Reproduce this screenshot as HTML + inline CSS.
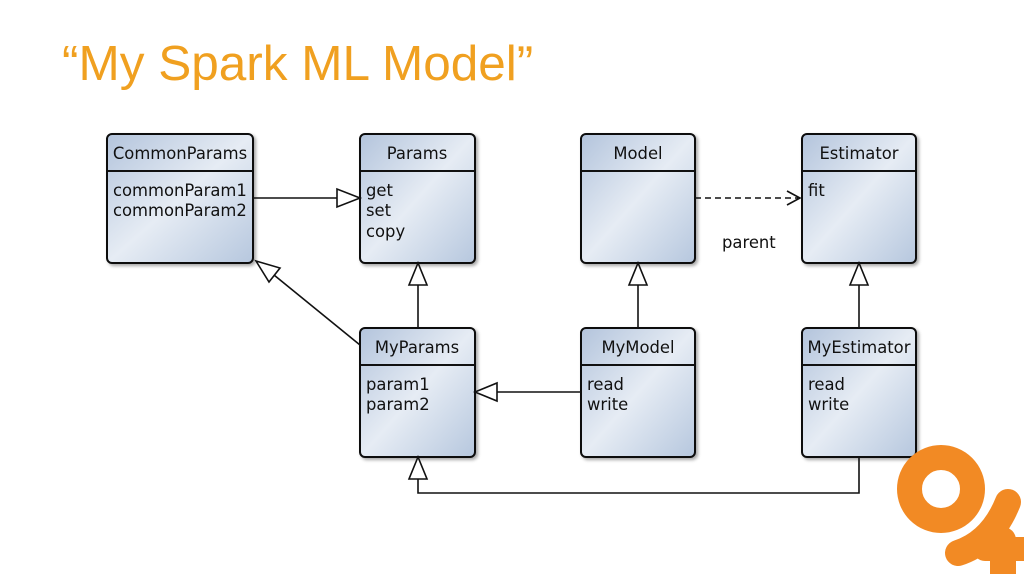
<!DOCTYPE html>
<html><head><meta charset="utf-8"><style>
html,body{margin:0;padding:0;background:#fff;width:1024px;height:574px;overflow:hidden}
svg{display:block}
</style></head><body>
<svg width="1024" height="574" viewBox="0 0 1024 574" xmlns="http://www.w3.org/2000/svg">
<defs>
<linearGradient id="g" x1="0" y1="0" x2="1" y2="1">
<stop offset="0" stop-color="#b3c4dc"/><stop offset="0.5" stop-color="#e6ecf4"/><stop offset="1" stop-color="#b6c7de"/>
</linearGradient>
<filter id="s" x="-10%" y="-10%" width="130%" height="130%"><feDropShadow dx="2" dy="2" stdDeviation="1.5" flood-color="#000" flood-opacity="0.35"/></filter>
</defs>
<text x="62" y="80" font-family="Liberation Sans, sans-serif" font-size="49.5" fill="#f0a020">“My Spark ML Model”</text>

<g font-family="DejaVu Sans, sans-serif" font-size="16.4" fill="#111">
<g stroke="#111" stroke-width="2">
<g filter="url(#s)">
<rect x="107" y="134" width="146" height="129" rx="5" fill="url(#g)"/>
<rect x="360" y="134" width="115" height="129" rx="5" fill="url(#g)"/>
<rect x="581" y="134" width="114" height="129" rx="5" fill="url(#g)"/>
<rect x="802" y="134" width="114" height="129" rx="5" fill="url(#g)"/>
<rect x="360" y="328" width="115" height="129" rx="5" fill="url(#g)"/>
<rect x="581" y="328" width="114" height="129" rx="5" fill="url(#g)"/>
<rect x="802" y="328" width="114" height="129" rx="5" fill="url(#g)"/>
</g>
<path d="M108 171H252M361 171H474M582 171H694M803 171H915M361 365H474M582 365H694M803 365H915" stroke-width="2"/>
</g>
<g text-anchor="middle">
<text x="180" y="159">CommonParams</text>
<text x="417" y="159">Params</text>
<text x="638" y="159">Model</text>
<text x="859" y="159">Estimator</text>
<text x="417" y="353">MyParams</text>
<text x="638" y="353">MyModel</text>
<text x="859" y="353">MyEstimator</text>
</g>
<text x="113" y="196">commonParam1</text>
<text x="113" y="216">commonParam2</text>
<text x="366" y="196">get</text>
<text x="366" y="216">set</text>
<text x="366" y="237">copy</text>
<text x="808" y="196">fit</text>
<text x="366" y="390">param1</text>
<text x="366" y="410">param2</text>
<text x="587" y="390">read</text>
<text x="587" y="410">write</text>
<text x="808" y="390">read</text>
<text x="808" y="410">write</text>
<text x="722" y="248">parent</text>
</g>

<g stroke="#111" stroke-width="1.6" fill="none">
<path d="M253 198H337"/>
<path d="M360 345L274 275"/>
<path d="M418 328V285"/>
<path d="M638 328V285"/>
<path d="M859 328V285"/>
<path d="M581 392H497"/>
<path d="M859 457V493H418V479"/>
<path d="M695 198H798" stroke-dasharray="6,4"/>
<path d="M787 191L800 198L787 205"/>
</g>
<g stroke="#111" stroke-width="1.6" fill="#fff">
<polygon points="360,198 337,189 337,207"/>
<polygon points="256,261 280,268 269,282"/>
<polygon points="418,263 409,285 427,285"/>
<polygon points="638,263 629,285 647,285"/>
<polygon points="859,263 850,285 868,285"/>
<polygon points="475,392 497,383 497,401"/>
<polygon points="418,457 409,479 427,479"/>
</g>

<g fill="none" stroke="#f28a24" stroke-linecap="round">
<circle cx="941" cy="489" r="31.5" stroke-width="25"/>
<path d="M1008 502Q992 542 958 553" stroke-width="26"/>
<path d="M985 549H1040" stroke-width="24"/>
<path d="M1003 540V590" stroke-width="26"/>
</g>
</svg>
</body></html>
